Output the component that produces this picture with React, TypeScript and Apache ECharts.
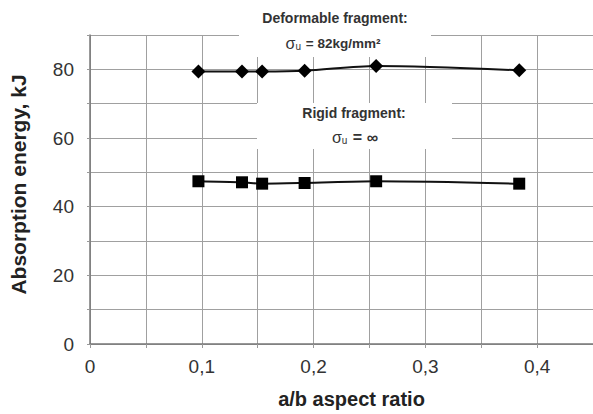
import React, { useEffect, useRef } from "react";
import * as echarts from "echarts";

const aspectDeformable = [0.097, 0.136, 0.154, 0.192, 0.256, 0.384];
const energyDeformable = [79.4, 79.4, 79.4, 79.6, 81.0, 79.7];
const aspectRigid = [0.097, 0.136, 0.154, 0.192, 0.256, 0.384];
const energyRigid = [47.4, 47.1, 46.7, 46.9, 47.4, 46.7];
const xTickLabels = ["0", "0,1", "0,2", "0,3", "0,4"];
const yTickLabels = ["0", "20", "40", "60", "80"];

const FONT = "'Liberation Sans', Arial, sans-serif";

export default function App() {
  const ref = useRef<HTMLDivElement>(null);
  useEffect(() => {
    if (!ref.current) return;
    const chart = echarts.init(ref.current, null, { renderer: "svg" });
    const pairs = (xs: number[], ys: number[]) => xs.map((x, i) => [x, ys[i]]);
    chart.setOption({
      animation: false,
      backgroundColor: "#fff",
      grid: { left: 89.5, top: 35, width: 506, bottom: 69, containLabel: false },
      xAxis: {
        type: "value",
        min: 0,
        max: 0.45,
        interval: 0.05,
        name: "a/b aspect ratio",
        nameLocation: "middle",
        nameGap: 45,
        nameTextStyle: { fontFamily: FONT, fontWeight: "bold", fontSize: 20, color: "#222", padding: [0, 0, 0, 20] },
        axisLine: { lineStyle: { color: "#777", width: 1.5 } },
        axisTick: { show: true, length: 4, lineStyle: { color: "#999" } },
        axisLabel: {
          margin: 13,
          fontFamily: FONT,
          fontSize: 19,
          color: "#333",
          showMaxLabel: false,
          formatter: (v: number) => {
            const k = Math.round(v * 20);
            if (k % 2 !== 0) return "";
            return xTickLabels[k / 2] ?? "";
          },
        },
        splitLine: { show: true, lineStyle: { color: "#a0a0a0", width: 1 } },
      },
      yAxis: {
        type: "value",
        min: 0,
        max: 90,
        interval: 10,
        name: "Absorption energy, kJ",
        nameLocation: "middle",
        nameGap: 61,
        nameTextStyle: { fontFamily: FONT, fontWeight: "bold", fontSize: 21, color: "#222", padding: [0, 0, 0, 10] },
        axisLine: { show: true, lineStyle: { color: "#777", width: 1.5 } },
        axisTick: { show: true, length: 3, lineStyle: { color: "#999" } },
        axisLabel: {
          margin: 16,
          fontFamily: FONT,
          fontSize: 19,
          color: "#333",
          formatter: (v: number) => {
            const k = Math.round(v / 10);
            if (k % 2 !== 0) return "";
            return yTickLabels[k / 2] ?? "";
          },
        },
        splitLine: { show: true, lineStyle: { color: "#a0a0a0", width: 1 } },
      },
      series: [
        {
          type: "line",
          data: pairs(aspectDeformable, energyDeformable),
          smooth: 0.3,
          symbol: "diamond",
          symbolSize: [14, 14],
          lineStyle: { color: "#111", width: 2 },
          itemStyle: { color: "#000" },
          z: 5,
        },
        {
          type: "line",
          data: pairs(aspectRigid, energyRigid),
          smooth: 0.3,
          symbol: "rect",
          symbolSize: 12,
          lineStyle: { color: "#111", width: 2 },
          itemStyle: { color: "#000" },
          z: 5,
        },
      ],
      graphic: [
        { type: "rect", z: 50, shape: { x: 239, y: 0, width: 192, height: 57 }, style: { fill: "#fff" } },
        { type: "rect", z: 50, shape: { x: 257, y: 103, width: 195, height: 46 }, style: { fill: "#fff" } },
        {
          type: "text", z: 60, x: 335, y: 18,
          style: { text: "Deformable fragment:", fontFamily: FONT, fontWeight: "bold", fontSize: 14, fill: "#333", align: "center", verticalAlign: "middle" },
        },
        {
          type: "text", z: 60, x: 333, y: 43,
          style: {
            text: "{s|σ}{sub|u}{b| = 82kg/mm²}",
            align: "center", verticalAlign: "middle",
            rich: {
              s: { fontFamily: FONT, fontSize: 16, fill: "#333" },
              sub: { fontFamily: FONT, fontSize: 10, fill: "#333", padding: [7, 1, 0, 0] },
              b: { fontFamily: FONT, fontWeight: "bold", fontSize: 13.5, fill: "#333" },
            },
          },
        },
        {
          type: "text", z: 60, x: 354, y: 113,
          style: { text: "Rigid fragment:", fontFamily: FONT, fontWeight: "bold", fontSize: 14, fill: "#333", align: "center", verticalAlign: "middle" },
        },
        {
          type: "text", z: 60, x: 355, y: 137,
          style: {
            text: "{s|σ}{sub|u}{b| = ∞}",
            align: "center", verticalAlign: "middle",
            rich: {
              s: { fontFamily: FONT, fontSize: 16, fill: "#333" },
              sub: { fontFamily: FONT, fontSize: 10, fill: "#333", padding: [7, 1, 0, 0] },
              b: { fontFamily: FONT, fontWeight: "bold", fontSize: 16, fill: "#333" },
            },
          },
        },
      ],
    });
    return () => chart.dispose();
  }, []);
  return (
    <div
      ref={ref}
      style={{ position: "fixed", left: 0, top: 0, width: 593, height: 414, background: "#fff" }}
    />
  );
}
